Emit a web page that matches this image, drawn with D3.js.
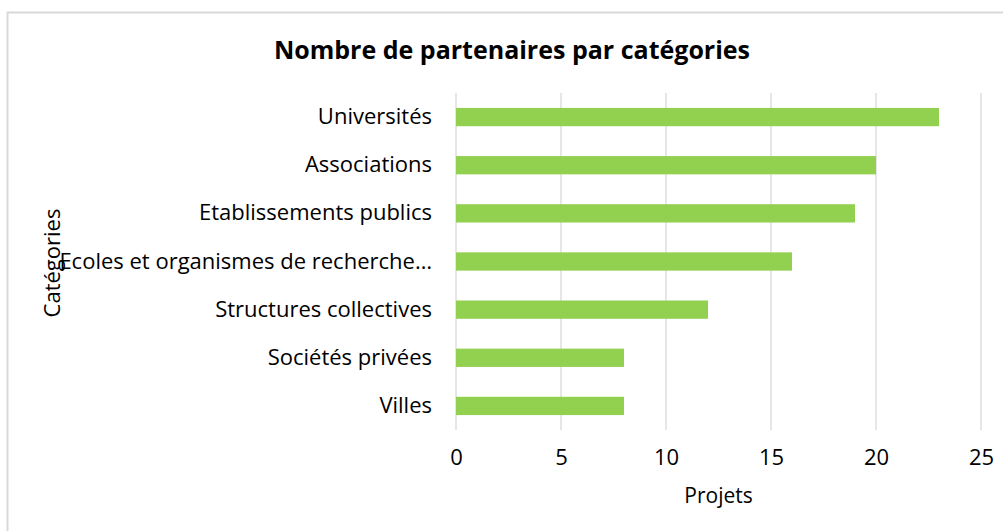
<!DOCTYPE html>
<html>
<head>
  <meta charset="utf-8" />
  <title>Nombre de partenaires par catégories</title>
  <script src="https://cdn.jsdelivr.net/npm/d3@7"></script>
  <style>
    body { margin: 0; background: #fff; }
    text { font-family: "Open Sans", "Noto Sans", sans-serif; fill: #000; }
  </style>
</head>
<body>
<div id="chart"></div>
<script>
  var w = 1003;
  var h = 531;

  var categories = ["Universités", "Associations ", "Etablissements publics",
    "Ecoles et organismes de recherche…", "Structures collectives", "Sociétés privées", "Villes "];
  var projets = [23, 20, 19, 16, 12, 8, 8];
  var xTicks = [0, 5, 10, 15, 20, 25];

  var m = { left: 456, right: 22, top: 93, bottom: 101 };

  var svg = d3.select("#chart").append("svg")
    .attr("width", w)
    .attr("height", h);

  // cadre du graphique (dépasse à droite et en bas)
  svg.append("rect")
    .attr("x", 7.5).attr("y", 12.5)
    .attr("width", 1010).attr("height", 540)
    .attr("fill", "white")
    .attr("stroke", "#d9d9d9")
    .attr("stroke-width", 2);

  var x = d3.scaleLinear().domain([0, 25]).range([m.left, w - m.right]);
  var y = d3.scaleBand().domain(categories).range([m.top, h - m.bottom]).paddingInner(0.62).paddingOuter(0.31);

  // grille verticale
  svg.append("g").selectAll("line")
    .data(xTicks)
    .enter().append("line")
    .attr("x1", function(d) { return x(d); })
    .attr("x2", function(d) { return x(d); })
    .attr("y1", m.top)
    .attr("y2", h - m.bottom)
    .attr("stroke", "#d9d9d9")
    .attr("stroke-width", 1.3);

  svg.append("g").selectAll("rect")
    .data(projets)
    .enter().append("rect")
    .attr("x", x(0))
    .attr("y", function(d, i) { return y(categories[i]); })
    .attr("width", function(d) { return x(d) - x(0); })
    .attr("height", y.bandwidth())
    .attr("fill", "#92d050");

  // axe x
  var xAxis = d3.axisBottom(x).tickValues(xTicks).tickSize(0).tickPadding(19);
  var gx = svg.append("g")
    .attr("transform", "translate(0," + (h - m.bottom) + ")")
    .call(xAxis);
  gx.select(".domain").remove();
  gx.selectAll("text").style("font-size", "22px").style("font-family", "'Open Sans', sans-serif").attr("fill", "#000");

  // axe y
  var yAxis = d3.axisLeft(y).tickSize(0).tickPadding(24);
  var gy = svg.append("g")
    .attr("transform", "translate(" + m.left + ",0)")
    .call(yAxis);
  gy.select(".domain").remove();
  gy.selectAll("text").style("font-size", "22px").style("font-family", "'Open Sans', sans-serif").attr("fill", "#000");

  svg.append("text")
    .attr("x", 512).attr("y", 59)
    .attr("text-anchor", "middle")
    .style("font-size", "25px")
    .style("font-weight", "bold")
    .text("Nombre de partenaires par catégories");

  svg.append("text")
    .attr("x", x(12.5)).attr("y", 503)
    .attr("text-anchor", "middle")
    .style("font-size", "21px")
    .text("Projets");

  svg.append("text")
    .attr("transform", "translate(60,263) rotate(-90)")
    .attr("text-anchor", "middle")
    .style("font-size", "22px")
    .text("Catégories");
</script>
</body>
</html>
